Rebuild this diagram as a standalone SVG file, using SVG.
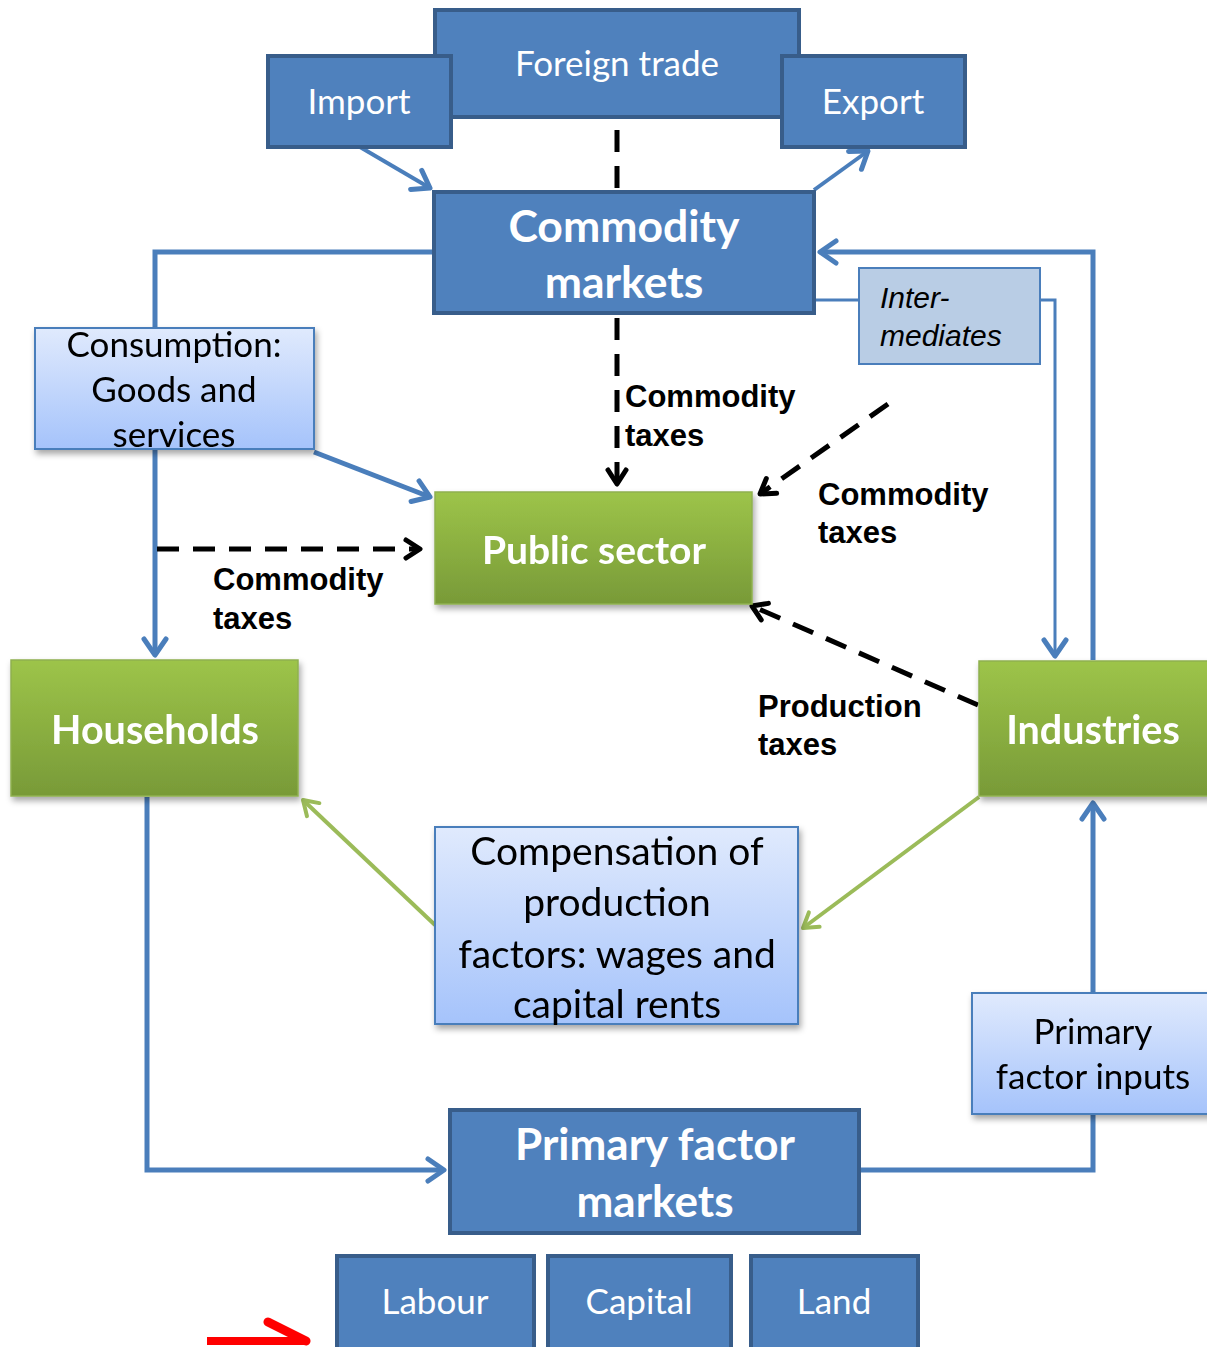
<svg xmlns="http://www.w3.org/2000/svg" width="1207" height="1347" viewBox="0 0 1207 1347">
<style>
.dk{fill:#4f81bd;stroke:#385d8a;stroke-width:4}
.dt{font-family:Lato,"Open Sans",sans-serif;fill:#fff;text-anchor:middle}
.gr{fill:url(#gG);stroke:#8fb04f;stroke-width:1.5}
.lb{fill:url(#gB);stroke:#4a7ebb;stroke-width:2}
.bt{font-family:Lato,"Open Sans",sans-serif;fill:#000;text-anchor:middle}
.lab{font-family:"Liberation Sans",Arial,sans-serif;font-weight:bold;font-size:31px;fill:#000}
.bl{fill:none;stroke:#4a7ebb;stroke-width:5}
.gl{fill:none;stroke:#9bbb59;stroke-width:4}
.da{fill:none;stroke:#000;stroke-width:5;stroke-dasharray:22 14}
</style>
<defs>
<linearGradient id="gG" x1="0" y1="0" x2="0" y2="1"><stop offset="0" stop-color="#9dc449"/><stop offset="1" stop-color="#789a38"/></linearGradient>
<linearGradient id="gB" x1="0" y1="0" x2="0" y2="1"><stop offset="0" stop-color="#e0eafd"/><stop offset="1" stop-color="#a5c3fb"/></linearGradient>
<filter id="sh" x="-10%" y="-10%" width="125%" height="130%"><feDropShadow dx="2" dy="4" stdDeviation="3" flood-color="#000" flood-opacity="0.35"/></filter>
<marker id="aB" markerWidth="10" markerHeight="10" refX="8" refY="5" orient="auto" markerUnits="userSpaceOnUse" viewBox="0 0 10 10" overflow="visible"><path d="M-8,-6 L8,5 L-8,16" fill="none" stroke="#4a7ebb" stroke-width="5" stroke-linecap="round" stroke-linejoin="round"/></marker>
<marker id="aG" markerWidth="10" markerHeight="10" refX="8" refY="5" orient="auto" markerUnits="userSpaceOnUse" viewBox="0 0 10 10" overflow="visible"><path d="M-6,-4 L8,5 L-6,14" fill="none" stroke="#9bbb59" stroke-width="4" stroke-linecap="round" stroke-linejoin="round"/></marker>
<marker id="aK" markerWidth="10" markerHeight="10" refX="8" refY="5" orient="auto" markerUnits="userSpaceOnUse" viewBox="0 0 10 10" overflow="visible"><path d="M-6,-4 L8,5 L-6,14" fill="none" stroke="#000" stroke-width="5" stroke-linecap="round" stroke-linejoin="round"/></marker>
<marker id="aR" markerWidth="10" markerHeight="10" refX="8" refY="5" orient="auto" markerUnits="userSpaceOnUse" viewBox="0 0 10 10" overflow="visible"><path d="M-30,-14 L8,5" fill="none" stroke="#ff0000" stroke-width="9" stroke-linecap="round"/></marker>
</defs>

<g id="connectors">
<path class="da" d="M617,130 V190"/>
<path class="da" d="M617,318 V484" marker-end="url(#aK)"/>
<path class="bl" d="M360,147 L430,188" marker-end="url(#aB)" style="stroke-width:4"/>
<path class="bl" d="M814,190 L868,151" marker-end="url(#aB)" style="stroke-width:4"/>
<path class="bl" d="M434,252 H155 V655" marker-end="url(#aB)"/>
<path class="bl" d="M1093,660 V252 H820" marker-end="url(#aB)"/>
<path class="bl" d="M814,300 H1055 V656" marker-end="url(#aB)" style="stroke-width:3"/>
<path class="bl" d="M314,452 L430,497" marker-end="url(#aB)"/>
<path class="da" d="M157,549 H420" marker-end="url(#aK)"/>
<path class="da" d="M888,404 L760,494" marker-end="url(#aK)"/>
<path class="da" d="M978,705 L752,606" marker-end="url(#aK)"/>
<path class="gl" d="M979,797 L803,928" marker-end="url(#aG)"/>
<path class="gl" d="M435,925 L303,800" marker-end="url(#aG)"/>
<path class="bl" d="M147,797 V1170 H444" marker-end="url(#aB)"/>
<path class="bl" d="M860,1170 H1093 V803" marker-end="url(#aB)"/>
<path d="M207,1341 H306" fill="none" stroke="#ff0000" stroke-width="8" marker-end="url(#aR)"/>
</g>

<g id="foreign-trade"><rect class="dk" x="435" y="10" width="364" height="107"/><text class="dt" x="617" y="76" font-size="35">Foreign trade</text></g>
<g id="import"><rect class="dk" x="268" y="56" width="183" height="91"/><text class="dt" x="359" y="114" font-size="35">Import</text></g>
<g id="export"><rect class="dk" x="782" y="56" width="183" height="91"/><text class="dt" x="873" y="114" font-size="35">Export</text></g>
<g id="commodity-markets"><rect class="dk" x="434" y="192" width="380" height="121"/><text class="dt" x="624" y="242" font-size="44.5" font-weight="bold">Commodity</text><text class="dt" x="624" y="298" font-size="44.5" font-weight="bold">markets</text></g>
<g id="intermediates"><rect x="859" y="268" width="181" height="96" fill="#b9cde5" stroke="#4a7ebb" stroke-width="2"/><text font-family="'Liberation Sans',Arial,sans-serif" font-style="italic" font-size="30" x="880" y="308">Inter-</text><text font-family="'Liberation Sans',Arial,sans-serif" font-style="italic" font-size="30" x="880" y="346">mediates</text></g>
<g id="consumption" filter="url(#sh)"><rect class="lb" x="35" y="328" width="279" height="121"/><text class="bt" x="174" y="357" font-size="35">Consumption:</text><text class="bt" x="174" y="402" font-size="35">Goods and</text><text class="bt" x="174" y="447" font-size="35">services</text></g>
<g id="public-sector" filter="url(#sh)"><rect class="gr" x="435" y="492" width="317" height="112"/><text class="dt" x="594" y="564" font-size="39" font-weight="bold">Public sector</text></g>
<g id="households" filter="url(#sh)"><rect class="gr" x="11" y="660" width="287" height="136"/><text class="dt" x="155" y="744" font-size="39.5" font-weight="bold">Households</text></g>
<g id="industries" filter="url(#sh)"><rect class="gr" x="979" y="661" width="232" height="135"/><text class="dt" x="1093" y="744" font-size="39.5" font-weight="bold">Industries</text></g>
<g id="compensation" filter="url(#sh)"><rect class="lb" x="435" y="827" width="363" height="197"/><text class="bt" x="617" y="865" font-size="39">Compensation of</text><text class="bt" x="617" y="916" font-size="39">production</text><text class="bt" x="617" y="968" font-size="39">factors: wages and</text><text class="bt" x="617" y="1018" font-size="39">capital rents</text></g>
<g id="primary-factor-inputs" filter="url(#sh)"><rect class="lb" x="972" y="993" width="240" height="121"/><text class="bt" x="1093" y="1044" font-size="35">Primary</text><text class="bt" x="1093" y="1089" font-size="35">factor inputs</text></g>
<g id="primary-factor-markets"><rect class="dk" x="450" y="1110" width="409" height="123"/><text class="dt" x="655" y="1160" font-size="44" font-weight="bold">Primary factor</text><text class="dt" x="655" y="1217" font-size="44" font-weight="bold">markets</text></g>
<g id="labour"><rect class="dk" x="337" y="1256" width="197" height="100"/><text class="dt" x="435" y="1314" font-size="35">Labour</text></g>
<g id="capital"><rect class="dk" x="548" y="1256" width="183" height="100"/><text class="dt" x="639" y="1314" font-size="35">Capital</text></g>
<g id="land"><rect class="dk" x="751" y="1256" width="167" height="100"/><text class="dt" x="834" y="1314" font-size="35">Land</text></g>

<g id="labels">
<text class="lab" x="625" y="407">Commodity</text><text class="lab" x="625" y="446">taxes</text>
<text class="lab" x="818" y="505">Commodity</text><text class="lab" x="818" y="543">taxes</text>
<text class="lab" x="213" y="590">Commodity</text><text class="lab" x="213" y="629">taxes</text>
<text class="lab" x="758" y="717">Production</text><text class="lab" x="758" y="755">taxes</text>
</g>
</svg>
